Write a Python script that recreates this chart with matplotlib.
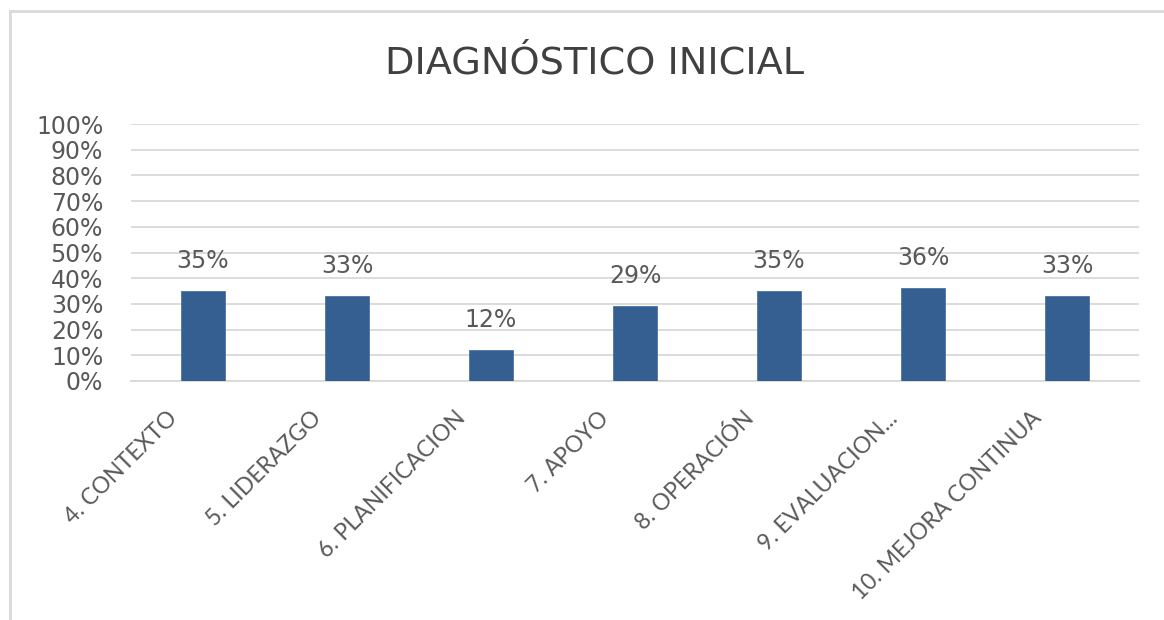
import matplotlib
matplotlib.use("Agg")
import matplotlib.pyplot as plt
from matplotlib.lines import Line2D

categories = ["4. CONTEXTO", "5. LIDERAZGO", "6. PLANIFICACION", "7. APOYO",
              "8. OPERACIÓN", "9. EVALUACION...", "10. MEJORA CONTINUA"]
values = [35, 33, 12, 29, 35, 36, 33]
value_labels = ["35%", "33%", "12%", "29%", "35%", "36%", "33%"]
y_ticks = [0, 10, 20, 30, 40, 50, 60, 70, 80, 90, 100]
y_tick_labels = [f"{t}%" for t in y_ticks]
title = "DIAGNÓSTICO INICIAL"

W, H = 1164, 620
DPI = 100
fig = plt.figure(figsize=(W / DPI, H / DPI), dpi=DPI)
fig.patch.set_facecolor("white")

# plot area in pixel coordinates
left, right, top, bottom = 131, 1139, 124, 381
ax = fig.add_axes([left / W, 1 - bottom / H, (right - left) / W, (bottom - top) / H])

text_color = "#595959"
grid_color = "#D9D9D9"
bar_color = "#355F91"

x = list(range(len(categories)))
bars = ax.bar(x, values, width=0.31, color=bar_color, edgecolor="#4A74A8", linewidth=0.6, zorder=3)

ax.set_xlim(-0.5, len(categories) - 0.5)
ax.set_ylim(0, 100)
ax.set_yticks(y_ticks)
ax.set_yticklabels(y_tick_labels, fontsize=17, color=text_color, family="DejaVu Sans")
ax.yaxis.grid(True, color=grid_color, linewidth=1.3, zorder=0)
ax.tick_params(axis="y", length=0, pad=20)
ax.tick_params(axis="x", length=0)
for side in ["left", "right", "top"]:
    ax.spines[side].set_visible(False)
ax.spines["bottom"].set_color(grid_color)
ax.spines["bottom"].set_linewidth(1.3)

ax.set_xticks(x)
ax.set_xticklabels([])
for xi, lab in zip(x, categories):
    ax.annotate(lab, xy=(xi, 0), xycoords="data", xytext=(-29, -34), textcoords="offset pixels",
                rotation=45, rotation_mode="anchor", ha="right", va="center",
                fontsize=16.5, color=text_color, family="Lato")

for xi, v, lab in zip(x, values, value_labels):
    ax.annotate(lab, xy=(xi, v), xytext=(0, 18), textcoords="offset pixels",
                ha="center", va="bottom", fontsize=17, color=text_color, family="DejaVu Sans")

fig.text(595 / W, 1 - 63 / H, title, ha="center", va="center", fontsize=27.5,
         color="#404040", family="DejaVu Sans")

# chart frame edges
fig.add_artist(Line2D([10 / W, 10 / W], [0, 1 - 11 / H], transform=fig.transFigure,
                      color=grid_color, linewidth=2))
fig.add_artist(Line2D([10 / W, 1], [1 - 11 / H, 1 - 11 / H], transform=fig.transFigure,
                      color=grid_color, linewidth=2))

fig.savefig("out.png", dpi=DPI)
